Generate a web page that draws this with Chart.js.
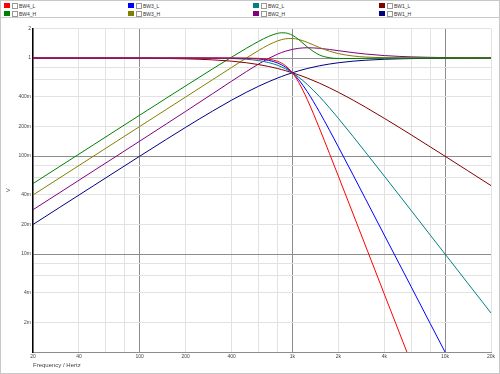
<!DOCTYPE html>
<html>
<head>
<meta charset="utf-8">
<script src="https://cdn.jsdelivr.net/npm/chart.js@4"></script>
<style>
  body { margin: 0; background: #fff; font-family: "Liberation Sans", Arial, sans-serif; }
  #wrap { position: relative; width: 498px; height: 372px; border: 1px solid #c8c8c8; }
  #legend { position: relative; height: 16px; border-bottom: 1px solid #c8c8c8; }
  .item { position: absolute; height: 6px; font-size: 5px; line-height: 6px; color: #333; white-space: nowrap; }
  .sw { position: absolute; left: 0; top: 0; width: 6px; height: 5px; }
  .cb { position: absolute; left: 8px; top: 0; width: 4px; height: 4px; border: 1px solid #999; background: #fff; }
  .lb { position: absolute; left: 15px; top: 0; }
  #box { position: relative; width: 498px; height: 355px; }
</style>
</head>
<body>
<div id="wrap">
  <div id="legend"></div>
  <div id="box"><canvas id="chart"></canvas></div>
</div>
<script>
// frequency response of the crossover filters
const freqs = [20, 30, 50, 70, 100, 150, 200, 300, 400, 500, 600, 700, 800, 850, 900, 1000,
  1100, 1250, 1500, 1750, 2000, 2500, 3000, 4000, 5000, 6000, 8000, 10000, 14000, 20000];

const bw4L = [1, 1, 1, 1, 1, 1, 1, 0.99997, 0.9997, 0.998, 0.9917, 0.9724, 0.9254, 0.8865, 0.8361, 0.7071,
  0.564, 0.379, 0.1938, 0.106, 0.0624, 0.0256, 0.01235, 0.0039, 0.0016, 0.00077, 0.000244, 0.0001, 0.000026, 0.0000063];
const bw3L = [1, 1, 1, 1, 1, 1, 1, 0.9996, 0.998, 0.9923, 0.9775, 0.9459, 0.8901, 0.8521, 0.8081, 0.7071,
  0.6007, 0.4557, 0.2841, 0.1834, 0.124, 0.0639, 0.037, 0.0156, 0.008, 0.00463, 0.00195, 0.001, 0.000364, 0.000125];
const bw2L = [1, 1, 1, 1, 1, 0.9998, 0.9992, 0.996, 0.9875, 0.9701, 0.9409, 0.898, 0.8423, 0.8106, 0.7771, 0.7071,
  0.637, 0.5391, 0.4061, 0.3104, 0.2425, 0.158, 0.1104, 0.0624, 0.04, 0.0278, 0.0156, 0.01, 0.0051, 0.0025];
const bw1L = [0.9998, 0.9996, 0.9988, 0.9976, 0.995, 0.9889, 0.9806, 0.9578, 0.9285, 0.8944, 0.8575, 0.8192, 0.7809, 0.7619, 0.7433, 0.7071,
  0.6727, 0.6247, 0.5547, 0.4961, 0.4472, 0.3714, 0.3162, 0.2425, 0.1961, 0.1644, 0.124, 0.0995, 0.0712, 0.0499];
const bw4H = [0.0523, 0.0784, 0.1306, 0.1828, 0.2609, 0.3907, 0.5196, 0.7735, 1.0205, 1.2569, 1.4762, 1.6626, 1.7845, 1.8085, 1.8028, 1.7071,
  1.5423, 1.299, 1.0767, 1.0063, 0.9889, 0.988, 0.9922, 0.9969, 0.9986, 0.9993, 0.9998, 1, 1, 1];
const bw3H = [0.04, 0.06, 0.1, 0.14, 0.2, 0.3, 0.4001, 0.6004, 0.8009, 1.0, 1.1919, 1.3634, 1.4953, 1.5402, 1.5694, 1.5811,
  1.5446, 1.4457, 1.2829, 1.1739, 1.1091, 1.0478, 1.0237, 1.0077, 1.0032, 1.0015, 1.0005, 1.0002, 1.0001, 1];
const bw2H = [0.0283, 0.0424, 0.0708, 0.0991, 0.1418, 0.2133, 0.2854, 0.432, 0.5805, 0.7276, 0.8673, 0.9919, 1.0949, 1.1369, 1.1724, 1.2247,
  1.2554, 1.2719, 1.2558, 1.2222, 1.188, 1.1346, 1.0988, 1.0586, 1.0384, 1.027, 1.0154, 1.0099, 1.0051, 1.0025];
const bw1H = [0.02, 0.03, 0.0499, 0.0698, 0.0995, 0.1483, 0.1961, 0.2873, 0.3714, 0.4472, 0.5145, 0.5734, 0.6247, 0.6476, 0.669, 0.7071,
  0.74, 0.7809, 0.8321, 0.8682, 0.8944, 0.9285, 0.9487, 0.9701, 0.9806, 0.9864, 0.9923, 0.995, 0.9975, 0.9988];

const seriesNames = ["BW4_L", "BW3_L", "BW2_L", "BW1_L", "BW4_H", "BW3_H", "BW2_H", "BW1_H"];
const seriesData = [bw4L, bw3L, bw2L, bw1L, bw4H, bw3H, bw2H, bw1H];
const seriesColors = ["#ff0000", "#0000ff", "#008080", "#800000", "#008000", "#808000", "#800080", "#000080"];

const xTicks = [20, 40, 60, 80, 100, 200, 400, 600, 800, 1000, 2000, 4000, 6000, 8000, 10000, 20000];
const xLabels = { 20: "20", 40: "40", 100: "100", 200: "200", 400: "400", 1000: "1k", 2000: "2k", 4000: "4k", 10000: "10k", 20000: "20k" };
const yTicks = [0.001, 0.002, 0.004, 0.006, 0.008, 0.01, 0.02, 0.04, 0.06, 0.08, 0.1, 0.2, 0.4, 0.6, 0.8, 1, 2];
const yLabels = { 2: "2", 1: "1", 0.4: "400m", 0.2: "200m", 0.1: "100m", 0.04: "40m", 0.02: "20m", 0.01: "10m", 0.004: "4m", 0.002: "2m" };
const majors = [100, 1000, 10000, 1, 0.1, 0.01];

// legend: 4 columns, 2 rows
const legendCols = [3, 127, 252, 378];
const legend = document.getElementById("legend");
seriesNames.forEach((name, i) => {
  const it = document.createElement("div");
  it.className = "item";
  it.style.left = legendCols[i % 4] + "px";
  it.style.top = (i < 4 ? 2 : 10) + "px";
  it.innerHTML = `<span class="sw" style="background:${seriesColors[i]}"></span><span class="cb"></span><span class="lb">${name}</span>`;
  legend.appendChild(it);
});

const gridColor = (c) => (majors.includes(c.tick.value) ? "#8c8c8c" : "#e2e2e2");
const font = { family: "'Liberation Sans', Arial, sans-serif", size: 5 };

new Chart(document.getElementById("chart").getContext("2d"), {
  type: "line",
  data: {
    datasets: seriesNames.map((name, i) => ({
      label: name,
      data: freqs.map((f, j) => ({ x: f, y: seriesData[i][j] })),
      borderColor: seriesColors[i],
      backgroundColor: seriesColors[i],
      borderWidth: 1,
      pointRadius: 0,
      cubicInterpolationMode: "monotone",
    })),
  },
  options: {
    responsive: true,
    maintainAspectRatio: false,
    animation: false,
    layout: { padding: { top: 10.5, right: 8, left: 0, bottom: 0 } },
    plugins: { legend: { display: false }, tooltip: { enabled: false } },
    scales: {
      x: {
        type: "logarithmic",
        min: 20,
        max: 20000,
        afterBuildTicks: (s) => { s.ticks = xTicks.map((v) => ({ value: v })); },
        afterFit: (s) => { s.height = 21; },
        grid: { color: gridColor, drawTicks: false },
        border: { color: "#8c8c8c" },
        ticks: { autoSkip: false, maxRotation: 0, padding: 2, color: "#444", font, callback: (v) => xLabels[v] || "" },
        title: { display: true, text: "Frequency / Hertz", align: "start", color: "#444", font: { ...font, size: 6 }, padding: { top: 0, bottom: 4 } },
      },
      y: {
        type: "logarithmic",
        min: 0.001,
        max: 2,
        afterBuildTicks: (s) => { s.ticks = yTicks.map((v) => ({ value: v })); },
        afterFit: (s) => { s.width = 32; },
        grid: { color: gridColor, drawTicks: false },
        border: { color: "#000", width: 1.5 },
        ticks: { autoSkip: false, padding: 2, color: "#444", font, callback: (v) => yLabels[v] || "" },
        title: { display: true, text: "V", color: "#444", font: { ...font, size: 6 }, padding: { top: 4, bottom: 0 } },
      },
    },
  },
});
</script>
</body>
</html>
